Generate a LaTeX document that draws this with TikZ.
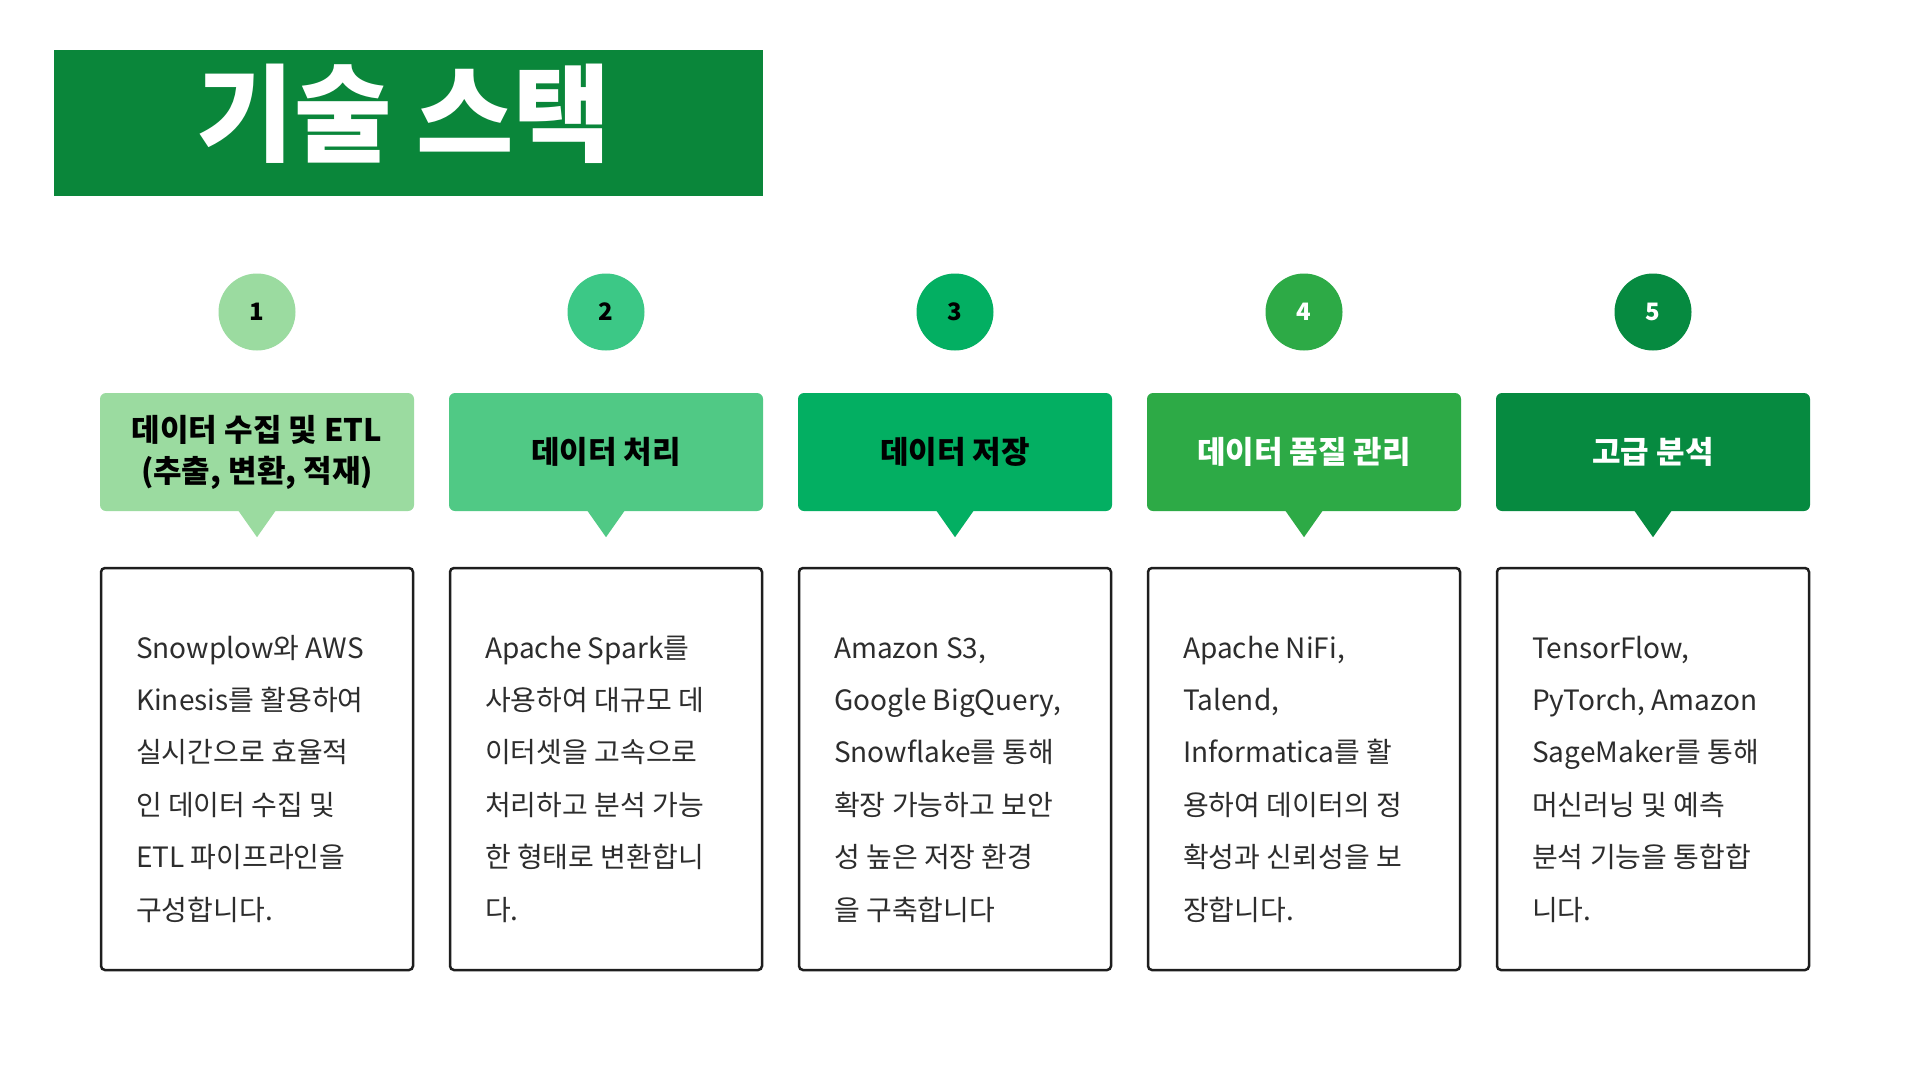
\documentclass[tikz,border=0pt]{standalone}
\usepackage{fontspec}
\newfontfamily\kr{Noto Sans CJK KR}
\usetikzlibrary{calc}
\definecolor{titlegreen}{RGB}{10,134,58}
\definecolor{ca}{RGB}{155,219,160}
\definecolor{cb}{RGB}{60,200,134}
\definecolor{cbb}{RGB}{80,201,133}
\definecolor{cc}{RGB}{3,175,98}
\definecolor{cd}{RGB}{45,170,70}
\definecolor{ce}{RGB}{6,138,64}
\definecolor{desctext}{RGB}{45,45,45}
\definecolor{boxline}{RGB}{30,30,30}
\tikzset{
  numcircle/.style={circle, minimum size=77pt, inner sep=0pt, font=\kr\bfseries\fontsize{24}{26}\selectfont},
  hdrbox/.style={rectangle, rounded corners=6pt, minimum width=314pt, minimum height=118pt, inner sep=0pt, align=center, font=\kr\bfseries\fontsize{31}{41}\selectfont},
  descbox/.style={rectangle, draw=boxline, line width=2.5pt, rounded corners=4pt, minimum width=312pt, minimum height=402pt, inner sep=0pt},
  descline/.style={anchor=base west, inner sep=0pt, text=desctext, font=\kr\fontsize{28}{34}\selectfont},
}
\begin{document}
\begin{tikzpicture}[x=1pt,y=-1pt]
\useasboundingbox (0,0) rectangle (1920,1080);
\fill[white] (0,0) rectangle (1920,1080);
% title
\node[fill=titlegreen, minimum width=709pt, minimum height=146pt, inner sep=0pt, anchor=north west] (title) at (54,50) {};
\node[text=white, inner sep=0pt, font=\kr\bfseries\fontsize{106}{116}\selectfont] (titletext) at (404,114) {기술 스택};
% circles
\node[numcircle, fill=ca, text=black] (n1) at (257,312) {1};
\node[numcircle, fill=cb, text=black] (n2) at (606,312) {2};
\node[numcircle, fill=cc, text=black] (n3) at (955,312) {3};
\node[numcircle, fill=cd, text=white] (n4) at (1304,312) {4};
\node[numcircle, fill=ce, text=white] (n5) at (1653,312) {5};
% header boxes
\node[hdrbox, fill=ca, text=black] (h1) at (257,452) {데이터 수집 및 ETL\\(추출, 변환, 적재)};
\node[hdrbox, fill=cbb, text=black] (h2) at (606,452) {데이터 처리};
\node[hdrbox, fill=cc, text=black] (h3) at (955,452) {데이터 저장};
\node[hdrbox, fill=cd, text=white] (h4) at (1304,452) {데이터 품질 관리};
\node[hdrbox, fill=ce, text=white] (h5) at (1653,452) {고급 분석};
\foreach \h/\c in {h1/ca, h2/cbb, h3/cc, h4/cd, h5/ce}{
  \fill[\c] ($(\h.south)+(-19,-1)$) -- ($(\h.south)+(19,-1)$) -- ($(\h.south)+(0,26)$) -- cycle;
}
% description boxes
\node[descbox] (d1) at (257,769) {};
\node[descbox] (d2) at (606,769) {};
\node[descbox] (d3) at (955,769) {};
\node[descbox] (d4) at (1304,769) {};
\node[descbox] (d5) at (1653,769) {};
\foreach \t [count=\i] in {{Snowplow와 AWS},{Kinesis를 활용하여},{실시간으로 효율적},{인 데이터 수집 및},{ETL 파이프라인을},{구성합니다.}}
  \node[descline] (da\i) at (136,{658+(\i-1)*52.4}) {\t};
\foreach \t [count=\i] in {{Apache Spark를},{사용하여 대규모 데},{이터셋을 고속으로},{처리하고 분석 가능},{한 형태로 변환합니},{다.}}
  \node[descline] (db\i) at (485,{658+(\i-1)*52.4}) {\t};
\foreach \t [count=\i] in {{Amazon S3,},{Google BigQuery,},{Snowflake를 통해},{확장 가능하고 보안},{성 높은 저장 환경},{을 구축합니다}}
  \node[descline] (dc\i) at (834,{658+(\i-1)*52.4}) {\t};
\foreach \t [count=\i] in {{Apache NiFi,},{Talend,},{Informatica를 활},{용하여 데이터의 정},{확성과 신뢰성을 보},{장합니다.}}
  \node[descline] (dd\i) at (1183,{658+(\i-1)*52.4}) {\t};
\foreach \t [count=\i] in {{TensorFlow,},{PyTorch, Amazon},{SageMaker를 통해},{머신러닝 및 예측},{분석 기능을 통합합},{니다.}}
  \node[descline] (de\i) at (1532,{658+(\i-1)*52.4}) {\t};
\end{tikzpicture}
\end{document}
